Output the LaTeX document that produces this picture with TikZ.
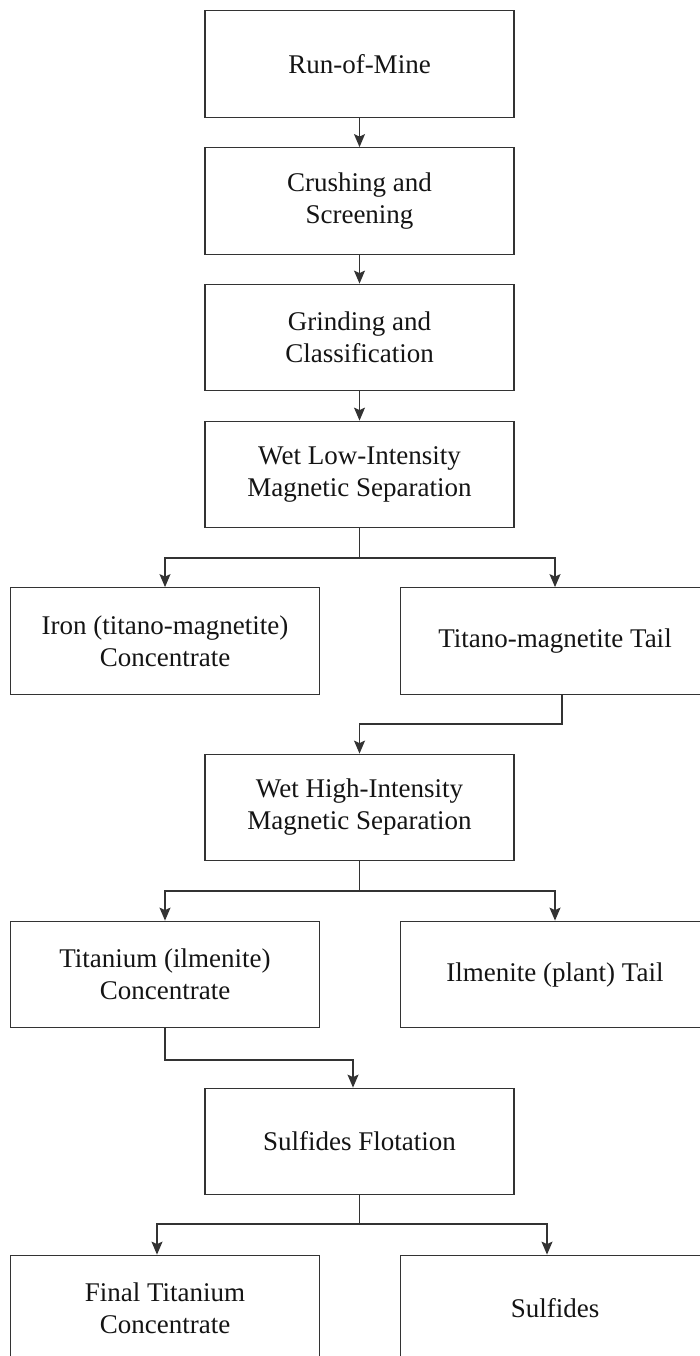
\documentclass[tikz,border=0pt]{standalone}
\usepackage{fontspec}
\setmainfont{Liberation Serif}
\usetikzlibrary{arrows.meta}
\begin{document}
\begin{tikzpicture}[x=1pt,y=-1pt,
  box/.style={draw=black!80, line width=1.3pt, minimum width=309pt, minimum height=106.5pt,
    inner sep=0pt, align=center, font=\fontsize{27}{32}\selectfont, text=black!92},
  link/.style={draw=black!80, line width=1.3pt},
  flow/.style={link, -{Stealth[length=13pt,width=11pt,inset=2.5pt]}}]
\path[use as bounding box, clip] (0,0) rectangle (700,1356);
\node[box] (A) at (359.5,64) {Run-of-Mine};
\node[box] (B) at (359.5,201) {Crushing and\\Screening};
\node[box] (C) at (359.5,337.5) {Grinding and\\Classification};
\node[box] (D) at (359.5,474.5) {Wet Low-Intensity\\Magnetic Separation};
\node[box] (E) at (165,641) {Iron (titano-magnetite)\\Concentrate};
\node[box] (F) at (555,641) {Titano-magnetite Tail};
\node[box] (G) at (359.5,807.5) {Wet High-Intensity\\Magnetic Separation};
\node[box] (H) at (165,974.5) {Titanium (ilmenite)\\Concentrate};
\node[box] (I) at (555,974.5) {Ilmenite (plant) Tail};
\node[box] (J) at (359.5,1141.5) {Sulfides Flotation};
\node[box] (K) at (165,1308.5) {Final Titanium\\Concentrate};
\node[box] (L) at (555,1308.5) {Sulfides};

\draw[flow] (A) -- (B);
\draw[flow] (B) -- (C);
\draw[flow] (C) -- (D);

\coordinate (d1) at (359.5,558);
\draw[link] (D.south) -- (d1);
\draw[flow] (d1) -| (E.north);
\draw[flow] (d1) -| (F.north);

\coordinate (f1) at (562,724);
\draw[flow] ([xshift=7pt]F.south) -- (f1) -| (G.north);

\coordinate (g1) at (359.5,891);
\draw[link] (G.south) -- (g1);
\draw[flow] (g1) -| (H.north);
\draw[flow] (g1) -| (I.north);

\coordinate (h1) at (165,1060);
\draw[flow] (H.south) -- (h1) -| ([xshift=-6.5pt]J.north);

\coordinate (j1) at (359.5,1224);
\draw[link] (J.south) -- (j1);
\draw[flow] (j1) -| ([xshift=-8pt]K.north);
\draw[flow] (j1) -| ([xshift=-8pt]L.north);
\end{tikzpicture}
\end{document}
